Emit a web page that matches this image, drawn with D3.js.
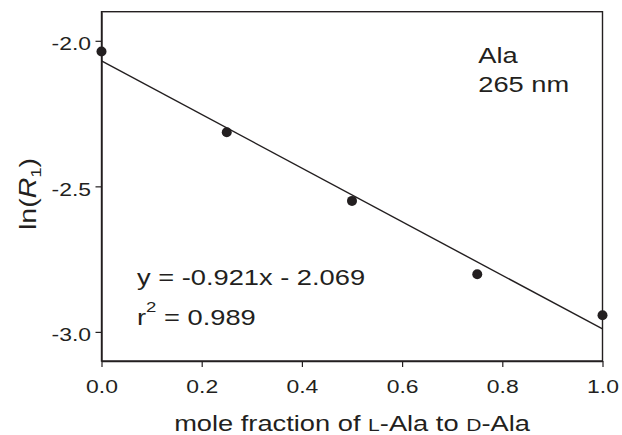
<!DOCTYPE html>
<html>
<head>
<meta charset="utf-8">
<script src="https://cdn.jsdelivr.net/npm/d3@7"></script>
<style>
    body { margin: 0; background: #fff; }
    text { font-family: "Liberation Sans", Arial, sans-serif; fill: #231f20; }
</style>
</head>
<body>
<div id="chart"></div>
<script>
// data
const moleFraction = [0, 0.25, 0.5, 0.75, 1.0];
const lnR1 = [-2.037, -2.314, -2.550, -2.802, -2.943];
const fitSlope = -0.921;
const fitIntercept = -2.069;
const xTicks = [0, 0.2, 0.4, 0.6, 0.8, 1.0];
const yTicks = [-3.0, -2.5, -2.0];

const W = 622, H = 435;
const margin = { top: 11.7, right: 19.5, bottom: 74, left: 101.5 };
const width = W - margin.left - margin.right;
const height = H - margin.top - margin.bottom;
const ink = "#231f20";
const stretch = 1.24; // the figure's font is drawn wide

const svg = d3.select("#chart")
    .append("svg")
    .attr("width", W)
    .attr("height", H)
    .append("g")
    .attr("transform", "translate(" + margin.left + "," + margin.top + ")");

const x = d3.scaleLinear().domain([0, 1]).range([0, width]);
const y = d3.scaleLinear().domain([-3.1, -1.9]).range([height, 0]);
const fmt = d => d.toFixed(1); // plain hyphen, as in the figure

// frame
svg.append("rect")
    .attr("width", width)
    .attr("height", height)
    .attr("fill", "none")
    .attr("stroke", ink)
    .attr("stroke-width", 1.4);

// x axis
const xAxis = svg.append("g")
    .attr("transform", "translate(0," + height + ")")
    .call(d3.axisBottom(x).tickValues(xTicks).tickSize(6).tickSizeOuter(0).tickFormat(fmt));
xAxis.select(".domain").attr("stroke", ink).attr("stroke-width", 1.4);
xAxis.selectAll(".tick line").attr("stroke", ink).attr("stroke-width", 1.2);
xAxis.selectAll(".tick text")
    .attr("y", 0).attr("dy", 0)
    .attr("transform", "translate(0,32) scale(" + stretch + ",1)")
    .attr("font-size", 18.5)
    .attr("fill", ink);

// y axis
const yAxis = svg.append("g")
    .call(d3.axisLeft(y).tickValues(yTicks).tickSize(6).tickSizeOuter(0).tickFormat(fmt));
yAxis.select(".domain").attr("stroke", ink).attr("stroke-width", 1.4);
yAxis.selectAll(".tick line").attr("stroke", ink).attr("stroke-width", 1.2);
yAxis.selectAll(".tick text")
    .attr("x", 0).attr("dy", 0)
    .attr("transform", "translate(-10.5,9) scale(" + stretch + ",1)")
    .attr("font-size", 18.5)
    .attr("fill", ink);

// fit line
svg.append("line")
    .attr("x1", x(0))
    .attr("y1", y(fitIntercept))
    .attr("x2", x(1))
    .attr("y2", y(fitSlope + fitIntercept))
    .attr("stroke", ink)
    .attr("stroke-width", 1.4);

// points
svg.selectAll(".pt")
    .data(moleFraction)
    .enter()
    .append("circle")
    .attr("class", "pt")
    .attr("cx", d => x(d))
    .attr("cy", (d, i) => y(lnR1[i]))
    .attr("r", 5)
    .attr("fill", ink);

// helper for wide text
function wideText(px, py, size) {
    return svg.append("text")
        .attr("transform", "translate(" + px + "," + py + ") scale(" + stretch + ",1)")
        .attr("font-size", size);
}

// sample label
wideText(478.3 - margin.left, 63 - margin.top, 22).text("Ala");
wideText(478.3 - margin.left, 91.7 - margin.top, 22).text("265 nm");

// regression text
wideText(137 - margin.left, 285 - margin.top, 22).text("y = -0.921x - 2.069");
const r2 = wideText(137 - margin.left, 325 - margin.top, 22);
r2.append("tspan").text("r");
r2.append("tspan").attr("font-size", 15).attr("dy", -13).text("2");
r2.append("tspan").attr("dy", 13).text(" = 0.989");

// x axis title
const xt = svg.append("text")
    .attr("transform", "translate(" + (width / 2) + "," + (431 - margin.top) + ") scale(" + stretch + ",1)")
    .attr("text-anchor", "middle")
    .attr("font-size", 22);
xt.append("tspan").text("mole fraction of ");
xt.append("tspan").attr("font-size", 17).text("L");
xt.append("tspan").text("-Ala to ");
xt.append("tspan").attr("font-size", 17).text("D");
xt.append("tspan").text("-Ala");

// y axis title
const yt = svg.append("text")
    .attr("transform", "translate(" + (36 - margin.left) + "," + (194 - margin.top) + ") rotate(-90) scale(" + stretch + ",1)")
    .attr("text-anchor", "middle")
    .attr("font-size", 23);
yt.append("tspan").text("ln(");
yt.append("tspan").attr("font-style", "italic").text("R");
yt.append("tspan").attr("font-size", 15).attr("dy", 5).text("1");
yt.append("tspan").attr("dy", -5).text(")");
</script>
</body>
</html>
